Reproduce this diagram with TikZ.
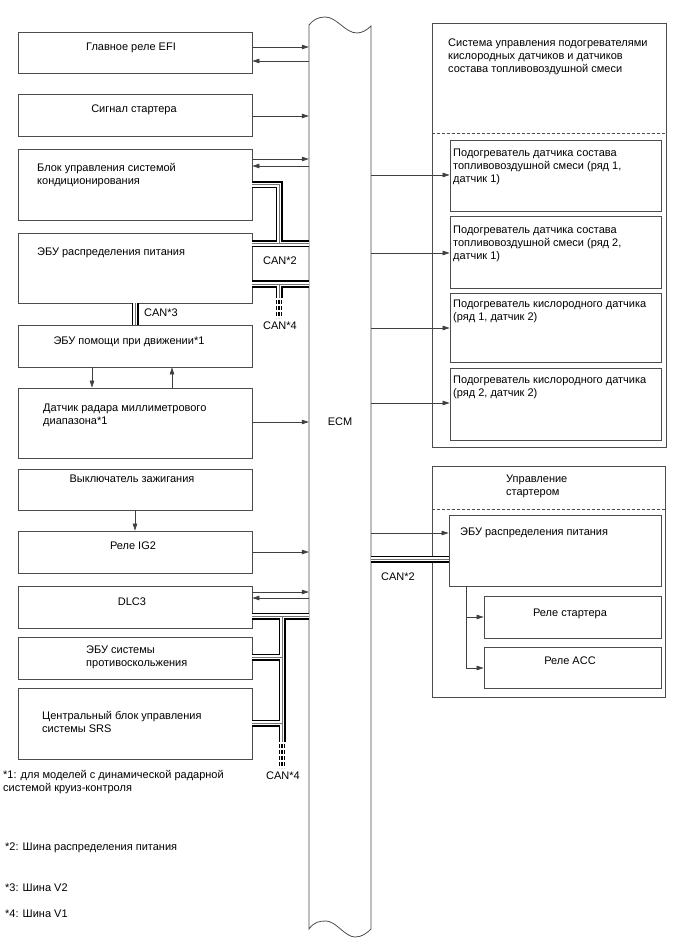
\documentclass[tikz,border=0pt]{standalone}
\usepackage{fontspec}
\setmainfont{Liberation Sans}
\usetikzlibrary{arrows.meta,fit}
\newcommand\canbus[1]{\draw[cbA] #1; \draw[cbB] #1; \draw[cbC] #1;}
\newcommand\candash[3]{\foreach \dx in {-2.6,0,2.6}{\draw[cbD] (#1+\dx,#2) -- (#1+\dx,#3);}}
\begin{document}
\begin{tikzpicture}[x=1pt,y=-1pt,
  every node/.style={font=\fontsize{11}{13}\selectfont},
  box/.style={draw=black!70, line width=0.8pt, inner sep=0pt},
  grp/.style={draw=black!70, line width=0.8pt, inner sep=0pt},
  sep/.style={draw=black!70, line width=0.7pt, dash pattern=on 3pt off 2pt},
  txt/.style={inner sep=0pt, align=left, anchor=north west, text=black},
  ctxt/.style={inner sep=0pt, align=center, anchor=north, text=black},
  arr/.style={draw=black!75, line width=0.7pt, -{Triangle[length=7pt,width=4.5pt]}},
  ln/.style={draw=black!75, line width=0.7pt},
  cbA/.style={line width=7pt, draw=black},
  cbB/.style={line width=3.4pt, draw=white},
  cbC/.style={line width=1pt, draw=black!55},
  cbD/.style={line width=1.5pt, draw=black, dash pattern=on 4pt off 2pt},
]
\fill[white] (0,0) rectangle (688,949);
\useasboundingbox (0,0) rectangle (688,949);

% ECM
\node[inner sep=0pt, fit={(309,25)(371,929)}] (ecm) {};
\draw[draw=black!70, line width=0.8pt] (309,25) -- (309,929)
  .. controls (314,922) and (319,921) .. (326,921)
  .. controls (336,921) and (345,937) .. (355,937)
  .. controls (362,937) and (367,933) .. (371,929)
  -- (371,26)
  .. controls (367,30) and (362,33) .. (357,33)
  .. controls (345,33) and (337,17) .. (325,17)
  .. controls (318,17) and (313,20) .. cycle;
\node[ctxt] (ecmlbl) at (340,416.5) {\strut ECM};

% left boxes
\node[box, fit={(18,32)(252,73)}] (b1) {};
\node[box, fit={(18,94)(252,136)}] (b2) {};
\node[box, fit={(18,149)(252,220)}] (b3) {};
\node[box, fit={(18,233)(252,303)}] (b4) {};
\node[box, fit={(18,325)(252,367)}] (b5) {};
\node[box, fit={(18,388)(252,458)}] (b6) {};
\node[box, fit={(18,469)(252,510)}] (b7) {};
\node[box, fit={(18,531)(252,573)}] (b8) {};
\node[box, fit={(18,586)(252,628)}] (b9) {};
\node[box, fit={(18,637)(252,679)}] (b10) {};
\node[box, fit={(18,688)(252,759)}] (b11) {};

\node[ctxt] (t1) at (131,41.5) {\strut Главное реле EFI};
\node[ctxt] (t2) at (134,103.5) {\strut Сигнал стартера};
\node[txt] (t3) at (37,162.5) {\strut Блок управления системой\\кондиционирования};
\node[txt] (t4) at (37,246.5) {\strut ЭБУ распределения питания};
\node[ctxt] (t5) at (129,335.5) {\strut ЭБУ помощи при движении*1};
\node[txt] (t6) at (43,402.5) {\strut Датчик радара миллиметрового\\диапазона*1};
\node[ctxt] (t7) at (132,473.5) {\strut Выключатель зажигания};
\node[ctxt] (t8) at (133,540.5) {\strut Реле IG2};
\node[ctxt] (t9) at (132,596.5) {\strut DLC3};
\node[txt] (t10) at (86,644.5) {\strut ЭБУ системы\\противоскольжения};
\node[txt] (t11) at (42,710.5) {\strut Центральный блок управления\\системы SRS};

% left arrows
\draw[arr] (b1.east|-0,47) -- (ecm.west|-0,47);
\draw[arr] (ecm.west|-0,61) -- (b1.east|-0,61);
\draw[arr] (b2.east|-0,116) -- (ecm.west|-0,116);
\draw[arr] (b3.east|-0,159) -- (ecm.west|-0,159);
\draw[arr] (ecm.west|-0,166) -- (b3.east|-0,166);
\draw[arr] (b6.east|-0,422) -- (ecm.west|-0,422);
\draw[arr] (b8.east|-0,552) -- (ecm.west|-0,552);
\draw[arr] (b9.east|-0,592) -- (ecm.west|-0,592);
\draw[arr] (ecm.west|-0,598) -- (b9.east|-0,598);
\draw[arr] (b5.south-|92,0) -- (b6.north-|92,0);
\draw[arr] (b6.north-|172,0) -- (b5.south-|172,0);
\draw[arr] (b7.south-|135,0) -- (b8.north-|135,0);

% CAN buses left
\canbus{(b3.east|-0,185) -| (279,244) (b4.east|-0,244) -- (ecm.west|-0,244)}
\canbus{(b4.east|-0,284) -- (ecm.west|-0,284) (279,284) -- (279,298)}
\candash{279}{300}{318}
\canbus{(b4.south-|135,0) -- (b5.north-|135,0)}
\canbus{(b9.east|-0,616) -- (ecm.west|-0,616) (282,616) -- (282,742) (b10.east|-0,657) -- (282,657) (b11.east|-0,723) -- (282,723)}
\candash{282}{744}{768}

\node[ctxt] (can2a) at (280,255.5) {\strut CAN*2};
\node[txt] (can3) at (144,307.5) {\strut CAN*3};
\node[ctxt] (can4a) at (280,320.5) {\strut CAN*4};
\node[ctxt] (can4b) at (283,770.5) {\strut CAN*4};

% right group 1
\node[grp, fit={(432,23)(666,447)}] (g1) {};
\draw[sep] (g1.west|-0,133) -- (g1.east|-0,133);
\node[txt] (g1t) at (448,37.5) {\strut Система управления подогревателями\\кислородных датчиков и датчиков\\состава топливовоздушной смеси};
\node[box, fit={(450,140)(661,211)}] (h1) {};
\node[box, fit={(450,216)(661,288)}] (h2) {};
\node[box, fit={(450,293)(661,362)}] (h3) {};
\node[box, fit={(450,368)(661,440)}] (h4) {};
\node[txt] (h1t) at (453,147.5) {\strut Подогреватель датчика состава\\топливовоздушной смеси (ряд 1,\\датчик 1)};
\node[txt] (h2t) at (453,224.5) {\strut Подогреватель датчика состава\\топливовоздушной смеси (ряд 2,\\датчик 1)};
\node[txt] (h3t) at (453,298.5) {\strut Подогреватель кислородного датчика\\(ряд 1, датчик 2)};
\node[txt] (h4t) at (453,374.5) {\strut Подогреватель кислородного датчика\\(ряд 2, датчик 2)};
\draw[arr] (ecm.east|-0,175) -- (h1.west|-0,175);
\draw[arr] (ecm.east|-0,253) -- (h2.west|-0,253);
\draw[arr] (ecm.east|-0,328) -- (h3.west|-0,328);
\draw[arr] (ecm.east|-0,403) -- (h4.west|-0,403);

% right group 2
\node[grp, fit={(432,466)(665,697)}] (g2) {};
\draw[sep] (g2.west|-0,509) -- (g2.east|-0,509);
\node[txt] (g2t) at (506,473.5) {\strut Управление\\стартером};
\node[box, fit={(449,515)(661,586)}] (p) {};
\node[txt] (pt) at (460,526.5) {\strut ЭБУ распределения питания};
\node[box, fit={(484,596)(661,638)}] (rs) {};
\node[box, fit={(484,647)(661,688)}] (ra) {};
\node[ctxt] (rst) at (570,607.5) {\strut Реле стартера};
\node[ctxt] (rat) at (570,655.5) {\strut Реле ACC};
\draw[arr] (ecm.east|-0,533) -- (p.west|-0,533);
\canbus{(ecm.east|-0,559) -- (p.west|-0,559)}
\node[ctxt] (can2b) at (398,571.5) {\strut CAN*2};
\coordinate (br) at (466,617);
\draw[arr] (p.south-|br) |- (rs.west|-br);
\draw[arr] (br) |- (ra.west|-0,668);

% notes
\node[txt] (n1) at (3,769.5) {\strut *1: для моделей с динамической радарной\\системой круиз-контроля};
\node[txt] (n2) at (5,841.5) {\strut *2: Шина распределения питания};
\node[txt] (n3) at (5,882.5) {\strut *3: Шина V2};
\node[txt] (n4) at (5,908.5) {\strut *4: Шина V1};
\end{tikzpicture}
\end{document}
